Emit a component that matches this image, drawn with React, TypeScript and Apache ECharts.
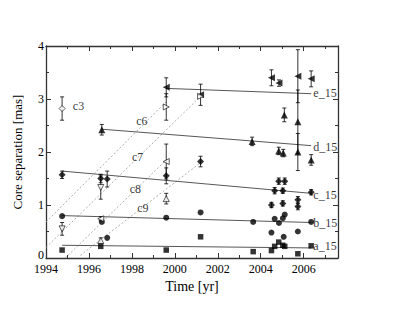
import React, { useEffect, useRef } from "react";
import * as echarts from "echarts";

// [year, separation(mas), error]
const squares: number[][] = [
  [1994.75, 0.15, 0], [1996.55, 0.22, 0], [1999.6, 0.15, 0], [2001.2, 0.4, 0],
  [2003.65, 0.12, 0], [2004.5, 0.14, 0], [2004.65, 0.22, 0], [2004.84, 0.3, 0],
  [2005.03, 0.24, 0], [2005.12, 0.22, 0], [2005.73, 0.08, 0], [2006.35, 0.23, 0],
];
const circles: number[][] = [
  [1994.75, 0.79, 0], [1996.6, 0.68, 0], [1996.85, 0.38, 0], [1999.6, 0.76, 0],
  [2001.2, 0.86, 0], [2003.65, 0.68, 0], [2004.5, 0.48, 0], [2004.65, 0.74, 0],
  [2004.85, 0.66, 0], [2005.03, 0.75, 0], [2005.12, 0.82, 0], [2005.07, 0.4, 0],
  [2005.73, 0.5, 0], [2006.35, 0.68, 0],
];
const diamonds: number[][] = [
  [1994.75, 1.57, 0.07], [1996.55, 1.5, 0.08], [1996.85, 1.49, 0.15], [1999.6, 1.55, 0.15],
  [2001.2, 1.82, 0.1], [2004.5, 1.0, 0.05], [2004.65, 1.27, 0.06], [2004.84, 1.45, 0.06],
  [2005.03, 1.27, 0.05], [2005.12, 1.45, 0.06], [2005.03, 1.03, 0.05], [2005.73, 1.1, 0.06],
  [2005.73, 0.97, 0.06], [2006.35, 1.24, 0.05],
];
const trianglesUp: number[][] = [
  [1996.6, 2.42, 0.1], [2003.6, 2.2, 0.08], [2004.84, 2.02, 0.07], [2005.05, 1.98, 0.07],
  [2005.1, 2.7, 0.13], [2005.73, 2.57, 0.6], [2005.73, 2.0, 0.35], [2006.35, 1.85, 0.1],
];
const trianglesLeft: number[][] = [
  [1999.6, 3.22, 0.18], [2001.2, 3.08, 0.2], [2004.5, 3.4, 0.15], [2004.85, 3.3, 0.06],
  [2005.73, 3.43, 0.5], [2006.35, 3.38, 0.15],
];
const openDiamond: number[][] = [[1994.75, 2.82, 0.22]];
const openTriRight: number[][] = [[1999.6, 2.85, 0.25], [2001.2, 3.05, 0]];
const openTriLeft: number[][] = [[1999.6, 1.82, 0.33], [1996.55, 0.74, 0.04]];
const openTriDown: number[][] = [[1994.75, 0.55, 0.12], [1996.55, 1.33, 0.22]];
const openTriUp: number[][] = [[1996.55, 0.33, 0.05], [1999.6, 1.12, 0.1]];

// fitted trends (solid) [start, end]
const fitLines: { name: string; pts: number[][] }[] = [
  { name: "e_15", pts: [[1999.6, 3.2], [2006.35, 3.1]] },
  { name: "d_15", pts: [[1996.6, 2.43], [2006.35, 2.12]] },
  { name: "c_15", pts: [[1994.75, 1.64], [2006.35, 1.22]] },
  { name: "b_15", pts: [[1994.75, 0.8], [2006.35, 0.67]] },
  { name: "a_15", pts: [[1994.75, 0.24], [2006.35, 0.19]] },
];
// component tracks (dotted)
const tracks: { name: string; pts: number[][] }[] = [
  { name: "c6", pts: [[1994.0, 0.68], [1999.6, 2.95]] },
  { name: "c7", pts: [[1994.0, 0.2], [2001.2, 3.05]] },
  { name: "c8", pts: [[1994.9, 0.0], [1999.6, 1.85]] },
  { name: "c9", pts: [[1995.6, 0.05], [2001.2, 1.8]] },
];
// annotation anchors (left edge of text)
const componentLabels: [string, number, number][] = [
  ["c3", 1995.25, 2.86], ["c6", 1998.2, 2.58], ["c7", 1998.0, 1.91],
  ["c8", 1997.9, 1.3], ["c9", 1998.25, 0.94],
  ["e_15", 2006.45, 3.11], ["d_15", 2006.45, 2.1], ["c_15", 2006.45, 1.19],
  ["b_15", 2006.45, 0.66], ["a_15", 2006.45, 0.23],
];

const FONT = "Liberation Serif";

export default function App() {
  const ref = useRef<HTMLDivElement>(null);
  useEffect(() => {
    if (!ref.current) return;
    const chart = echarts.init(ref.current, undefined, { renderer: "svg" });

    const axisCommon = {
      min: 1994,
      max: 2007.6,
      interval: 2,
      axisLine: { show: true, onZero: false, lineStyle: { color: "#333", width: 1.3 } },
      axisTick: { show: true, inside: true, length: 5, lineStyle: { color: "#333" } },
      minorTick: { show: true, splitNumber: 2, length: 3, lineStyle: { color: "#333" } },
      splitLine: { show: false },
    };
    const yCommon = {
      min: 0,
      max: 4,
      interval: 1,
      axisLine: { show: true, onZero: false, lineStyle: { color: "#333", width: 1.3 } },
      axisTick: { show: true, inside: true, length: 5, lineStyle: { color: "#333" } },
      minorTick: { show: true, splitNumber: 2, length: 3, lineStyle: { color: "#333" } },
      splitLine: { show: false },
    };

    const scatter = (data: number[][], symbol: string, rotate: number, filled: boolean, size: number) => ({
      type: "scatter",
      data: data.map((d) => [d[0], d[1]]),
      symbol,
      symbolRotate: rotate,
      symbolSize: size,
      itemStyle: filled
        ? { color: "#000" }
        : { color: "#fff", borderColor: "#000", borderWidth: 0.8 },
      z: 5,
    });

    const allErr = [
      ...diamonds, ...trianglesUp, ...trianglesLeft, ...openDiamond,
      ...openTriRight, ...openTriLeft, ...openTriDown, ...openTriUp,
    ].filter((d) => d[2] > 0);

    const series: any[] = [];
    tracks.forEach((t) =>
      series.push({
        type: "line",
        data: t.pts,
        showSymbol: false,
        lineStyle: { color: "#9a9a9a", width: 0.8, type: [2, 2] },
        z: 1,
      })
    );
    fitLines.forEach((t) =>
      series.push({
        type: "line",
        data: t.pts,
        showSymbol: false,
        lineStyle: { color: "#444", width: 0.9 },
        z: 2,
      })
    );
    series.push({
      type: "custom",
      data: allErr,
      encode: { x: 0, y: 1 },
      z: 3,
      renderItem: (params: any, api: any) => {
        const x = api.value(0);
        const y = api.value(1);
        const e = api.value(2);
        const top = api.coord([x, y + e]);
        const bot = api.coord([x, y - e]);
        const st = { stroke: "#000", lineWidth: 0.8 };
        return {
          type: "group",
          children: [
            { type: "line", shape: { x1: top[0], y1: top[1], x2: bot[0], y2: bot[1] }, style: st },
            { type: "line", shape: { x1: top[0] - 2, y1: top[1], x2: top[0] + 2, y2: top[1] }, style: st },
            { type: "line", shape: { x1: bot[0] - 2, y1: bot[1], x2: bot[0] + 2, y2: bot[1] }, style: st },
          ],
        };
      },
    });
    series.push(scatter(squares, "rect", 0, true, 5.5));
    series.push(scatter(circles, "circle", 0, true, 6));
    series.push(scatter(diamonds, "diamond", 0, true, 7));
    series.push(scatter(trianglesUp, "triangle", 0, true, 7));
    series.push(scatter(trianglesLeft, "triangle", 90, true, 7));
    series.push(scatter(openDiamond, "diamond", 0, false, 6));
    series.push(scatter(openTriRight, "triangle", -90, false, 6));
    series.push(scatter(openTriLeft, "triangle", 90, false, 6));
    series.push(scatter(openTriDown, "triangle", 180, false, 6));
    series.push(scatter(openTriUp, "triangle", 0, false, 6));
    series.push({
      type: "scatter",
      symbolSize: 0,
      data: componentLabels.map((l) => ({ name: l[0], value: [l[1], l[2]] })),
      label: {
        show: true,
        position: "right",
        distance: 0,
        formatter: "{b}",
        fontFamily: FONT,
        fontSize: 12,
        color: "#000",
      },
      z: 6,
    });

    chart.setOption({
      animation: false,
      backgroundColor: "#fff",
      textStyle: { fontFamily: FONT },
      grid: { left: 46, right: 71, top: 46, bottom: 58 },
      xAxis: [
        {
          type: "value",
          position: "bottom",
          ...axisCommon,
          name: "Time [yr]",
          nameLocation: "middle",
          nameGap: 16,
          nameTextStyle: { fontFamily: FONT, fontSize: 14, color: "#000" },
          axisLabel: {
            fontFamily: FONT,
            fontSize: 12,
            color: "#000",
            margin: 5,
            showMaxLabel: false,
            formatter: (v: number) => (v % 2 === 0 ? String(v) : ""),
          },
        },
        { type: "value", position: "top", ...axisCommon, axisLabel: { show: false } },
      ],
      yAxis: [
        {
          type: "value",
          position: "left",
          ...yCommon,
          name: "Core separation [mas]",
          nameLocation: "middle",
          nameGap: 22,
          nameTextStyle: { fontFamily: FONT, fontSize: 13, color: "#000" },
          axisLabel: {
            fontFamily: FONT,
            fontSize: 12,
            color: "#000",
            margin: 2,
            formatter: (v: number) => (v === 0 ? "{z|0}" : String(v)),
            rich: { z: { fontFamily: FONT, fontSize: 12, color: "#000", padding: [0, 0, 6, 0] } },
          },
        },
        { type: "value", position: "right", ...yCommon, axisLabel: { show: false } },
      ],
      series,
    });
    return () => chart.dispose();
  }, []);
  return (
    <div
      ref={ref}
      style={{ position: "fixed", left: 0, top: 0, width: 409, height: 316, background: "#fff" }}
    />
  );
}
